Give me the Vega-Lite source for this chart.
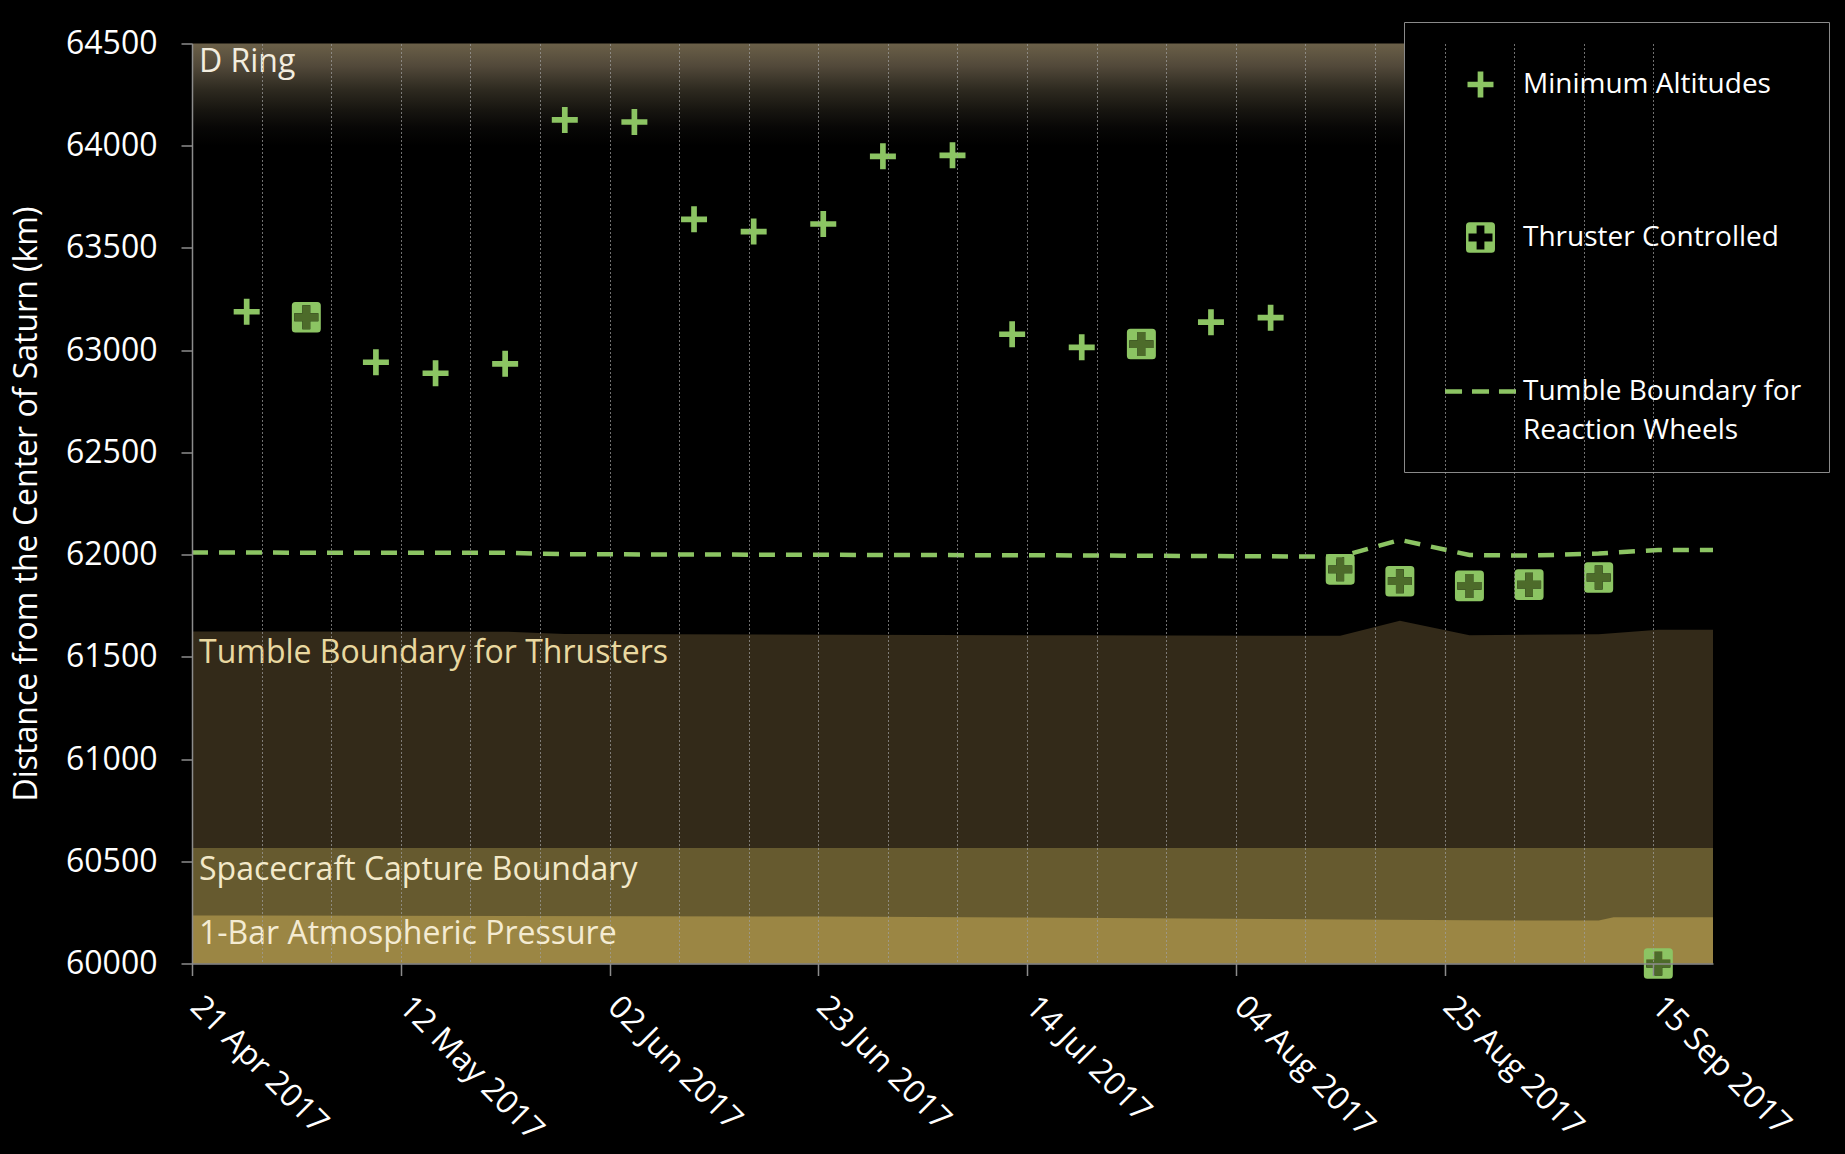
{
  "$schema": "https://vega.github.io/schema/vega-lite/v6.json",
  "width": 1521,
  "height": 920,
  "autosize": {"type": "none"},
  "padding": {"left": 192, "top": 43.5, "right": 132, "bottom": 190.5},
  "background": "#000000",
  "config": {
    "view": {"stroke": null},
    "font": "Open Sans",
    "axis": {"zindex": 1},
    "style": {"guide-label": {"lineHeight": 39}}
  },
  "datasets": {
    "dring": [{"start": "2017-04-21T00:00:00Z", "end": "2017-09-21T00:00:00Z", "top": 64500, "bottom": 64000}],
    "thrusters": [
      {"date": "2017-04-21T00:00:00Z", "top": 61624},
      {"date": "2017-05-22T12:00:00Z", "top": 61623},
      {"date": "2017-05-28T12:00:00Z", "top": 61612},
      {"date": "2017-07-19T12:00:00Z", "top": 61605},
      {"date": "2017-08-14T12:00:00Z", "top": 61603},
      {"date": "2017-08-20T12:00:00Z", "top": 61676},
      {"date": "2017-08-27T12:00:00Z", "top": 61606},
      {"date": "2017-09-09T12:00:00Z", "top": 61610},
      {"date": "2017-09-15T12:00:00Z", "top": 61632},
      {"date": "2017-09-21T00:00:00Z", "top": 61632}
    ],
    "capture": [
      {"date": "2017-04-21T00:00:00Z", "top": 60565},
      {"date": "2017-09-21T00:00:00Z", "top": 60565}
    ],
    "onebar": [
      {"date": "2017-04-21T00:00:00Z", "top": 60235},
      {"date": "2017-06-23T12:00:00Z", "top": 60230},
      {"date": "2017-07-14T00:00:00Z", "top": 60225},
      {"date": "2017-08-07T12:00:00Z", "top": 60218},
      {"date": "2017-08-27T12:00:00Z", "top": 60211},
      {"date": "2017-09-09T12:00:00Z", "top": 60210},
      {"date": "2017-09-11T00:00:00Z", "top": 60226},
      {"date": "2017-09-21T00:00:00Z", "top": 60226}
    ],
    "wheels": [
      {"date": "2017-04-21T00:00:00Z", "alt": 62010},
      {"date": "2017-05-22T12:00:00Z", "alt": 62009},
      {"date": "2017-05-28T12:00:00Z", "alt": 62002},
      {"date": "2017-07-19T12:00:00Z", "alt": 61996},
      {"date": "2017-08-14T12:00:00Z", "alt": 61990},
      {"date": "2017-08-20T12:00:00Z", "alt": 62072},
      {"date": "2017-08-27T12:00:00Z", "alt": 61998},
      {"date": "2017-09-02T12:00:00Z", "alt": 61995},
      {"date": "2017-09-09T12:00:00Z", "alt": 62005},
      {"date": "2017-09-15T12:00:00Z", "alt": 62023},
      {"date": "2017-09-21T00:00:00Z", "alt": 62023}
    ],
    "points": [
      {"date": "2017-04-26T12:00:00Z", "alt": 63188, "type": "Minimum Altitudes"},
      {"date": "2017-05-02T12:00:00Z", "alt": 63161, "type": "Thruster Controlled"},
      {"date": "2017-05-09T12:00:00Z", "alt": 62941, "type": "Minimum Altitudes"},
      {"date": "2017-05-15T12:00:00Z", "alt": 62887, "type": "Minimum Altitudes"},
      {"date": "2017-05-22T12:00:00Z", "alt": 62933, "type": "Minimum Altitudes"},
      {"date": "2017-05-28T12:00:00Z", "alt": 64126, "type": "Minimum Altitudes"},
      {"date": "2017-06-04T12:00:00Z", "alt": 64116, "type": "Minimum Altitudes"},
      {"date": "2017-06-10T12:00:00Z", "alt": 63640, "type": "Minimum Altitudes"},
      {"date": "2017-06-16T12:00:00Z", "alt": 63580, "type": "Minimum Altitudes"},
      {"date": "2017-06-23T12:00:00Z", "alt": 63617, "type": "Minimum Altitudes"},
      {"date": "2017-06-29T12:00:00Z", "alt": 63948, "type": "Minimum Altitudes"},
      {"date": "2017-07-06T12:00:00Z", "alt": 63953, "type": "Minimum Altitudes"},
      {"date": "2017-07-12T12:00:00Z", "alt": 63078, "type": "Minimum Altitudes"},
      {"date": "2017-07-19T12:00:00Z", "alt": 63014, "type": "Minimum Altitudes"},
      {"date": "2017-07-25T12:00:00Z", "alt": 63030, "type": "Thruster Controlled"},
      {"date": "2017-08-01T12:00:00Z", "alt": 63137, "type": "Minimum Altitudes"},
      {"date": "2017-08-07T12:00:00Z", "alt": 63159, "type": "Minimum Altitudes"},
      {"date": "2017-08-14T12:00:00Z", "alt": 61928, "type": "Thruster Controlled"},
      {"date": "2017-08-20T12:00:00Z", "alt": 61870, "type": "Thruster Controlled"},
      {"date": "2017-08-27T12:00:00Z", "alt": 61847, "type": "Thruster Controlled"},
      {"date": "2017-09-02T12:00:00Z", "alt": 61853, "type": "Thruster Controlled"},
      {"date": "2017-09-09T12:00:00Z", "alt": 61888, "type": "Thruster Controlled"},
      {"date": "2017-09-15T12:00:00Z", "alt": 60000, "type": "Thruster Controlled"}
    ]
  },
  "layer": [
    {
      "data": {"name": "dring"},
      "mark": {
        "type": "rect",
        "color": {
          "gradient": "linear", "x1": 0, "y1": 0, "x2": 0, "y2": 1,
          "stops": [
            {"offset": 0, "color": "#6b6048"},
            {"offset": 0.22, "color": "#52493a"},
            {"offset": 0.45, "color": "#2e2a20"},
            {"offset": 0.65, "color": "#171510"},
            {"offset": 0.82, "color": "#080706"},
            {"offset": 1, "color": "#000000"}
          ]
        }
      },
      "encoding": {
        "x": {
          "field": "start", "type": "temporal",
          "scale": {"type": "utc", "nice": false, "domain": [{"year": 2017, "month": 4, "date": 21, "utc": true}, {"year": 2017, "month": 9, "date": 21, "utc": true}]},
          "axis": {
            "title": null,
            "zindex": 1,
            "values": [
              {"year": 2017, "month": 4, "date": 21, "utc": true},
              {"year": 2017, "month": 4, "date": 28, "utc": true},
              {"year": 2017, "month": 5, "date": 5, "utc": true},
              {"year": 2017, "month": 5, "date": 12, "utc": true},
              {"year": 2017, "month": 5, "date": 19, "utc": true},
              {"year": 2017, "month": 5, "date": 26, "utc": true},
              {"year": 2017, "month": 6, "date": 2, "utc": true},
              {"year": 2017, "month": 6, "date": 9, "utc": true},
              {"year": 2017, "month": 6, "date": 16, "utc": true},
              {"year": 2017, "month": 6, "date": 23, "utc": true},
              {"year": 2017, "month": 6, "date": 30, "utc": true},
              {"year": 2017, "month": 7, "date": 7, "utc": true},
              {"year": 2017, "month": 7, "date": 14, "utc": true},
              {"year": 2017, "month": 7, "date": 21, "utc": true},
              {"year": 2017, "month": 7, "date": 28, "utc": true},
              {"year": 2017, "month": 8, "date": 4, "utc": true},
              {"year": 2017, "month": 8, "date": 11, "utc": true},
              {"year": 2017, "month": 8, "date": 18, "utc": true},
              {"year": 2017, "month": 8, "date": 25, "utc": true},
              {"year": 2017, "month": 9, "date": 1, "utc": true},
              {"year": 2017, "month": 9, "date": 8, "utc": true},
              {"year": 2017, "month": 9, "date": 15, "utc": true}
            ],
            "format": "%d %b %Y",
            "labelExpr": "round((datum.value - utc(2017,3,21)) / 86400000) % 21 == 0 ? datum.label : ''",
            "labelAngle": 45,
            "labelAlign": "left",
            "labelBaseline": "top",
            "labelFontSize": 32,
            "labelColor": "#ffffff",
            "labelPadding": 15,
            "labelOffset": 14,
            "labelLimit": 500,
            "labelOverlap": false,
            "labelBound": false,
            "labelFlush": false,
            "grid": true,
            "gridColor": "#a0a0a0",
            "gridDash": [2, 2],
            "gridWidth": 1,
            "gridOpacity": 0.7,
            "tickColor": "#8c8c8c",
            "tickSize": 12,
            "tickWidth": 1.5,
            "tickOpacity": {"condition": {"test": "round((datum.value - utc(2017,3,21)) / 86400000) % 21 == 0", "value": 1}, "value": 0},
            "domainColor": "#8c8c8c",
            "domainWidth": 1.5
          }
        },
        "x2": {"field": "end"},
        "y": {
          "field": "top", "type": "quantitative",
          "scale": {"domain": [60000, 64500], "nice": false, "zero": false},
          "axis": {
            "title": "Distance from the Center of Saturn (km)",
            "zindex": 1,
            "titleFontSize": 32,
            "titleFontWeight": "normal",
            "titleColor": "#ffffff",
            "titlePadding": 22,
            "values": [60000, 60500, 61000, 61500, 62000, 62500, 63000, 63500, 64000, 64500],
            "format": "d",
            "labelFontSize": 32,
            "labelColor": "#ffffff",
            "labelPadding": 24,
            "tickSize": 11,
            "tickColor": "#8c8c8c",
            "tickWidth": 1.5,
            "domainColor": "#8c8c8c",
            "domainWidth": 1.5,
            "grid": false
          }
        },
        "y2": {"field": "bottom"}
      }
    },
    {
      "data": {"name": "thrusters"},
      "mark": {"type": "area", "color": "#332a19", "opacity": 1},
      "encoding": {
        "x": {"field": "date", "type": "temporal"},
        "y": {"field": "top", "type": "quantitative"},
        "y2": {"datum": 60000}
      }
    },
    {
      "data": {"name": "capture"},
      "mark": {"type": "area", "color": "#665a2f", "opacity": 1},
      "encoding": {
        "x": {"field": "date", "type": "temporal"},
        "y": {"field": "top", "type": "quantitative"},
        "y2": {"datum": 60000}
      }
    },
    {
      "data": {"name": "onebar"},
      "mark": {"type": "area", "color": "#9b8644", "opacity": 1},
      "encoding": {
        "x": {"field": "date", "type": "temporal"},
        "y": {"field": "top", "type": "quantitative"},
        "y2": {"datum": 60000}
      }
    },
    {
      "data": {"values": [{}]},
      "mark": {"type": "text", "align": "left", "baseline": "alphabetic", "dx": 7, "fontSize": 32, "color": "#f3eddf"},
      "encoding": {
        "x": {"datum": {"year": 2017, "month": 4, "date": 21, "utc": true}, "type": "temporal"},
        "y": {"datum": 64362, "type": "quantitative"},
        "text": {"value": "D Ring"}
      }
    },
    {
      "data": {"values": [{}]},
      "mark": {"type": "text", "align": "left", "baseline": "alphabetic", "dx": 7, "fontSize": 32, "color": "#e9d8a0"},
      "encoding": {
        "x": {"datum": {"year": 2017, "month": 4, "date": 21, "utc": true}, "type": "temporal"},
        "y": {"datum": 61469, "type": "quantitative"},
        "text": {"value": "Tumble Boundary for Thrusters"}
      }
    },
    {
      "data": {"values": [{}]},
      "mark": {"type": "text", "align": "left", "baseline": "alphabetic", "dx": 7, "fontSize": 32, "color": "#f3e9c9"},
      "encoding": {
        "x": {"datum": {"year": 2017, "month": 4, "date": 21, "utc": true}, "type": "temporal"},
        "y": {"datum": 60410, "type": "quantitative"},
        "text": {"value": "Spacecraft Capture Boundary"}
      }
    },
    {
      "data": {"values": [{}]},
      "mark": {"type": "text", "align": "left", "baseline": "alphabetic", "dx": 7, "fontSize": 32, "color": "#f4ebd2"},
      "encoding": {
        "x": {"datum": {"year": 2017, "month": 4, "date": 21, "utc": true}, "type": "temporal"},
        "y": {"datum": 60097, "type": "quantitative"},
        "text": {"value": "1-Bar Atmospheric Pressure"}
      }
    },
    {
      "data": {"name": "wheels"},
      "mark": {"type": "line", "color": "#8cc463", "strokeWidth": 4.5, "strokeDash": [16, 11]},
      "encoding": {
        "x": {"field": "date", "type": "temporal"},
        "y": {"field": "alt", "type": "quantitative"}
      }
    },
    {
      "data": {"name": "points"},
      "mark": {"type": "point", "filled": true, "size": 5041, "opacity": 1, "strokeWidth": 0},
      "encoding": {
        "x": {"field": "date", "type": "temporal"},
        "y": {"field": "alt", "type": "quantitative"},
        "color": {
          "field": "type", "type": "nominal",
          "scale": {"domain": ["Minimum Altitudes", "Thruster Controlled", "Tumble Boundary for Reaction Wheels"], "range": ["#8cc463", "#8cc463", "#8cc463"]},
          "legend": {
            "title": null, "orient": "none", "legendX": 1212, "legendY": -21.5, "direction": "vertical",
            "fillColor": "#000000", "strokeColor": "#8a8a8a", "padding": 27, "symbolOffset": 14,
            "symbolSize": 5041, "symbolStrokeWidth": 0, "symbolOpacity": 1,
            "labelFont": "Open Sans", "labelFontSize": 28, "labelColor": "#ffffff", "labelOffset": 7, "labelLimit": 400,
            "rowPadding": 103,
            "labelExpr": "datum.label == 'Tumble Boundary for Reaction Wheels' ? ['Tumble Boundary for', 'Reaction Wheels'] : datum.label"
          }
        },
        "shape": {
          "field": "type", "type": "nominal",
          "scale": {
            "domain": ["Minimum Altitudes", "Thruster Controlled", "Tumble Boundary for Reaction Wheels"],
            "range": [
              "M-0.08,-0.366H0.08V-0.08H0.366V0.08H0.08V0.366H-0.08V0.08H-0.366V-0.08H-0.08Z",
              "M-0.308,-0.431H0.308Q0.408,-0.431 0.408,-0.331V0.331Q0.408,0.431 0.308,0.431H-0.308Q-0.408,0.431 -0.408,0.331V-0.331Q-0.408,-0.431 -0.308,-0.431Z M-0.11,-0.338V-0.11H-0.338V0.11H-0.11V0.338H0.11V0.11H0.338V-0.11H0.11V-0.338Z",
              "M-1,-0.06H-0.52V0.06H-1Z M-0.24,-0.06H0.24V0.06H-0.24Z M0.52,-0.06H1V0.06H0.52Z"
            ]
          },
          "legend": {
            "title": null, "orient": "none", "legendX": 1212, "legendY": -21.5, "direction": "vertical",
            "fillColor": "#000000", "strokeColor": "#8a8a8a", "padding": 27, "symbolOffset": 14,
            "symbolSize": 5041, "symbolStrokeWidth": 0, "symbolOpacity": 1,
            "labelFont": "Open Sans", "labelFontSize": 28, "labelColor": "#ffffff", "labelOffset": 7, "labelLimit": 400,
            "rowPadding": 103,
            "labelExpr": "datum.label == 'Tumble Boundary for Reaction Wheels' ? ['Tumble Boundary for', 'Reaction Wheels'] : datum.label"
          }
        }
      }
    },
    {
      "data": {"name": "points"},
      "transform": [{"filter": "datum.type == 'Thruster Controlled'"}],
      "mark": {
        "type": "point", "filled": true, "size": 5041, "opacity": 1, "strokeWidth": 0, "color": "#4d6b2a",
        "shape": "M-0.11,-0.338H0.11V-0.11H0.338V0.11H0.11V0.338H-0.11V0.11H-0.338V-0.11H-0.11Z"
      },
      "encoding": {
        "x": {"field": "date", "type": "temporal"},
        "y": {"field": "alt", "type": "quantitative"}
      }
    }
  ]
}
